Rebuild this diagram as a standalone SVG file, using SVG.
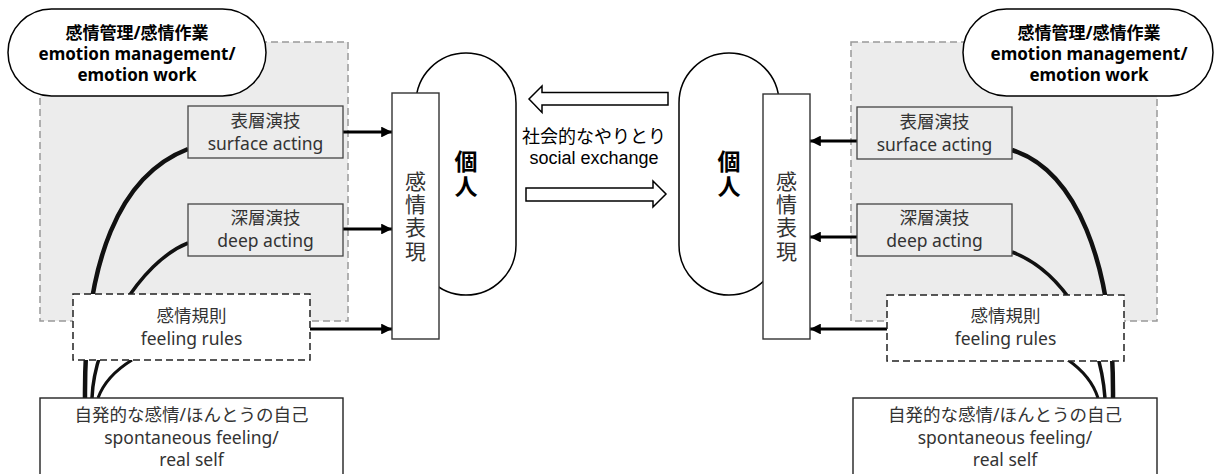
<svg xmlns="http://www.w3.org/2000/svg" width="1215" height="474" viewBox="0 0 1215 474">
<defs>
<marker id="ah" viewBox="0 0 10 10" refX="10" refY="5" markerWidth="3.8" markerHeight="3.6" orient="auto" markerUnits="strokeWidth">
<path d="M0,0 L10,5 L0,10 z" fill="#000"/>
</marker>
<style>
.region{fill:#ececec;stroke:#999;stroke-width:1.5;stroke-dasharray:7 4}
.pill{fill:#fff;stroke:#000;stroke-width:1.5}
.gbox{fill:#ececec;stroke:#444;stroke-width:1.3}
.dbox{fill:#fff;stroke:#222;stroke-width:1.5;stroke-dasharray:7 4}
.wbox{fill:#fff;stroke:#222;stroke-width:1.4}
.expr{fill:#fff;stroke:#333;stroke-width:1.4}
.hollow{fill:#fff;stroke:#000;stroke-width:1.5}
.t{font-family:"Noto Sans","Noto Sans CJK JP",sans-serif;font-size:17.5px;fill:#333;text-anchor:middle;dominant-baseline:central}
.tb{font-family:"Noto Sans","Noto Sans CJK JP",sans-serif;font-size:17px;font-weight:bold;fill:#000;text-anchor:middle;dominant-baseline:central}
.tm{font-family:"Liberation Sans","Noto Sans CJK JP",sans-serif;font-size:18px;fill:#000;text-anchor:middle;dominant-baseline:central}
.tp{font-family:"Noto Sans CJK JP",sans-serif;font-size:23px;font-weight:bold;fill:#000;text-anchor:middle;writing-mode:vertical-rl;letter-spacing:2px}
.tv{font-family:"Noto Sans CJK JP",sans-serif;font-size:21px;fill:#333;text-anchor:middle;writing-mode:vertical-rl;letter-spacing:2.3px}
.arr{fill:none;stroke:#000;stroke-width:3;marker-end:url(#ah)}
.c1{fill:none;stroke:#111;stroke-width:4.5}
.c2{fill:none;stroke:#111;stroke-width:3.5}
.c3{fill:none;stroke:#111;stroke-width:3}
</style>
</defs>

<g id="regions">
<rect class="region" x="40" y="42" width="308" height="279"/>
<rect class="region" x="851" y="42" width="306" height="279"/>
</g>

<g id="connectors">
<path class="c1" d="M85,398 C84,260 120,175 188,149"/>
<path class="c2" d="M92,398 C94,340 140,262 188,243"/>
<path class="c3" d="M132,360 Q106,376 98,398"/>
<path class="c1" d="M1113,398 C1114,260 1075,170 1012,150"/>
<path class="c2" d="M1105,398 C1100,330 1060,270 1012,252"/>
<path class="c3" d="M1068,360 Q1091,376 1098,398"/>
<path class="arr" d="M343,132 L392,132"/>
<path class="arr" d="M343,229 L392,229"/>
<path class="arr" d="M310,329 L392,329"/>
<path class="arr" d="M857,141 L810,141"/>
<path class="arr" d="M857,237 L810,237"/>
<path class="arr" d="M887,329 L810,329"/>
<polygon class="hollow" points="668,92.5 542,92.5 542,86 529,99 542,112.5 542,105 668,105"/>
<polygon class="hollow" points="526,188 653,188 653,181 666,194 653,207 653,201 526,201"/>
</g>

<g id="mgmt-left">
<rect class="pill" x="8" y="9" width="258" height="87" rx="43.5"/>
<text class="tb" x="137" y="32"><tspan x="137" y="32">感情管理/感情作業</tspan><tspan x="137" y="53">emotion management/</tspan><tspan x="137" y="74">emotion work</tspan></text>
</g>
<g id="surface-left">
<rect class="gbox" x="188" y="106" width="155" height="52"/>
<text class="t" x="265.5" y="120"><tspan x="265.5" y="120">表層演技</tspan><tspan x="265.5" y="143">surface acting</tspan></text>
</g>
<g id="deep-left">
<rect class="gbox" x="188" y="204" width="155" height="52"/>
<text class="t" x="265.5" y="217"><tspan x="265.5" y="217">深層演技</tspan><tspan x="265.5" y="240">deep acting</tspan></text>
</g>
<g id="rules-left">
<rect class="dbox" x="73" y="294" width="237" height="66"/>
<text class="t" x="191.5" y="315"><tspan x="191.5" y="315">感情規則</tspan><tspan x="191.5" y="338">feeling rules</tspan></text>
</g>
<g id="self-left">
<rect class="wbox" x="40" y="398" width="303" height="90"/>
<text class="t" x="191.5" y="414"><tspan x="191.5" y="414">自発的な感情/ほんとうの自己</tspan><tspan x="191.5" y="437">spontaneous feeling/</tspan><tspan x="191.5" y="459">real self</tspan></text>
</g>
<g id="person-left">
<rect class="pill" x="416" y="53" width="100" height="242" rx="50"/>
<text class="tp" x="466" y="175">個人</text>
</g>
<g id="expr-left">
<rect class="expr" x="392" y="93" width="47" height="246"/>
<text class="tv" x="415.5" y="217">感情表現</text>
</g>

<g id="exchange-label">
<text class="tm" x="594" y="137"><tspan x="594" y="137">社会的なやりとり</tspan><tspan x="594" y="158">social exchange</tspan></text>
</g>

<g id="person-right">
<rect class="pill" x="679" y="53" width="100" height="242" rx="50"/>
<text class="tp" x="729" y="175">個人</text>
</g>
<g id="expr-right">
<rect class="expr" x="763" y="94" width="47" height="245"/>
<text class="tv" x="786.5" y="217">感情表現</text>
</g>
<g id="mgmt-right">
<rect class="pill" x="963" y="9" width="250" height="87" rx="43.5"/>
<text class="tb" x="1089" y="32"><tspan x="1089" y="32">感情管理/感情作業</tspan><tspan x="1089" y="53">emotion management/</tspan><tspan x="1089" y="74">emotion work</tspan></text>
</g>
<g id="surface-right">
<rect class="gbox" x="857" y="107" width="155" height="52"/>
<text class="t" x="934.5" y="121"><tspan x="934.5" y="121">表層演技</tspan><tspan x="934.5" y="144">surface acting</tspan></text>
</g>
<g id="deep-right">
<rect class="gbox" x="857" y="204" width="155" height="52"/>
<text class="t" x="934.5" y="217"><tspan x="934.5" y="217">深層演技</tspan><tspan x="934.5" y="240">deep acting</tspan></text>
</g>
<g id="rules-right">
<rect class="dbox" x="887" y="295" width="237" height="66"/>
<text class="t" x="1005.5" y="315"><tspan x="1005.5" y="315">感情規則</tspan><tspan x="1005.5" y="338">feeling rules</tspan></text>
</g>
<g id="self-right">
<rect class="wbox" x="853" y="398" width="304" height="90"/>
<text class="t" x="1005" y="414"><tspan x="1005" y="414">自発的な感情/ほんとうの自己</tspan><tspan x="1005" y="437">spontaneous feeling/</tspan><tspan x="1005" y="459">real self</tspan></text>
</g>
</svg>
